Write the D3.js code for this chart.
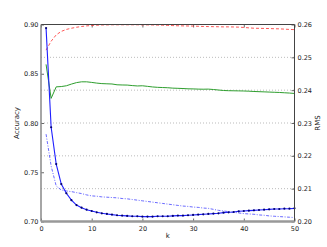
<!DOCTYPE html>
<html>
<head>
<meta charset="utf-8">
<script src="https://cdn.jsdelivr.net/npm/d3@7"></script>
<style>
  body { margin: 0; background: #fff; }
  text { font-family: "DejaVu Sans", sans-serif; fill: #222; }
</style>
</head>
<body>
<div id="chart"></div>
<script>
// k values and series
const kValues = [1,2,3,4,5,6,7,8,9,10,11,12,13,14,15,16,17,18,19,20,21,22,23,24,25,
                 26,27,28,29,30,31,32,33,34,35,36,37,38,39,40,41,42,43,44,45,46,47,48,49,50];

// accuracy (left axis)
const accRed = [0.8740,0.8830,0.8895,0.8930,0.8950,0.8962,0.8972,0.8980,0.8986,0.8990,
                0.8993,0.8995,0.8996,0.8997,0.8997,0.8997,0.8997,0.8997,0.8997,0.8996,
                0.8996,0.8995,0.8994,0.8993,0.8991,0.8989,0.8987,0.8986,0.8985,0.8984,
                0.8982,0.8980,0.8979,0.8978,0.8977,0.8976,0.8976,0.8975,0.8973,0.8970,
                0.8966,0.8962,0.8961,0.8960,0.8959,0.8957,0.8956,0.8953,0.8950,0.8948];
const accGreen = [0.8595,0.8250,0.8367,0.8370,0.8378,0.8395,0.8410,0.8418,0.8418,0.8412,
                  0.8405,0.8400,0.8398,0.8396,0.8388,0.8386,0.8385,0.8380,0.8376,0.8378,
                  0.8372,0.8366,0.8362,0.8360,0.8358,0.8354,0.8352,0.8350,0.8347,0.8346,
                  0.8344,0.8343,0.8344,0.8340,0.8335,0.8330,0.8328,0.8327,0.8326,0.8325,
                  0.8323,0.8320,0.8318,0.8316,0.8314,0.8312,0.8310,0.8307,0.8304,0.8300];

// RMS (right axis)
const rmsBlue = [0.2589,0.2287,0.2175,0.2114,0.2086,0.2065,0.2050,0.2042,0.2036,0.2032,
                 0.2028,0.2025,0.2023,0.2021,0.2019,0.2018,0.2017,0.2016,0.2016,0.2015,
                 0.2015,0.2015,0.2016,0.2016,0.2016,0.2017,0.2018,0.2018,0.2019,0.2020,
                 0.2021,0.2022,0.2023,0.2024,0.2025,0.2027,0.2028,0.2029,0.2031,0.2032,
                 0.2033,0.2034,0.2035,0.2036,0.2037,0.2038,0.2038,0.2039,0.2039,0.2040];
const rmsDashDot = [0.2266,0.2169,0.2108,0.2096,0.2093,0.2091,0.2088,0.2085,0.2081,0.2078,
                    0.2077,0.2075,0.2074,0.2073,0.2072,0.2070,0.2069,0.2067,0.2065,0.2063,
                    0.2061,0.2059,0.2057,0.2055,0.2053,0.2051,0.2049,0.2047,0.2046,0.2044,
                    0.2043,0.2041,0.2040,0.2037,0.2034,0.2032,0.2030,0.2028,0.2026,0.2024,
                    0.2023,0.2022,0.2020,0.2019,0.2017,0.2016,0.2015,0.2014,0.2013,0.2012];

const xTicks = [0,10,20,30,40,50];
const accTicks = [0.70,0.75,0.80,0.85,0.90];
const rmsTicks = [0.20,0.21,0.22,0.23,0.24,0.25,0.26];

// Set dimensions and margins
const W = 327, H = 247;
const margin = {top: 24.5, right: 32.5, bottom: 25.5, left: 41},
      width = W - margin.left - margin.right,
      height = H - margin.top - margin.bottom;

const svg = d3.select("#chart")
    .append("svg")
    .attr("width", W)
    .attr("height", H)
    .append("g")
    .attr("transform", `translate(${margin.left},${margin.top})`);

const x = d3.scaleLinear().domain([0, 50]).range([0, width]);
const yAcc = d3.scaleLinear().domain([0.70, 0.90]).range([height, 0]);
const yRms = d3.scaleLinear().domain([0.20, 0.26]).range([height, 0]);

// dotted grid on the RMS ticks
svg.append("g")
    .selectAll("line")
    .data(rmsTicks.slice(1, -1))
    .enter()
    .append("line")
    .attr("x1", 0).attr("x2", width)
    .attr("y1", d => yRms(d)).attr("y2", d => yRms(d))
    .attr("stroke", "#aaa")
    .attr("stroke-width", 0.8)
    .attr("stroke-dasharray", "1,2");

// Axes (ticks inside, like matplotlib classic)
const fmt = d3.format(".2f");
const styleAxis = g => {
    g.select(".domain").remove();
    g.selectAll(".tick line").attr("stroke", "#444").attr("stroke-width", 0.8);
    g.selectAll(".tick text").style("font-size", "6.5px").attr("fill", "#222");
};

svg.append("g")
    .attr("transform", `translate(0,${height})`)
    .call(d3.axisBottom(x).tickValues(xTicks).tickSize(-3).tickPadding(5))
    .call(styleAxis);
svg.append("g")
    .call(d3.axisTop(x).tickValues(xTicks).tickSize(-3).tickFormat(""))
    .call(styleAxis);
svg.append("g")
    .call(d3.axisLeft(yAcc).tickValues(accTicks).tickSize(-3).tickPadding(2.5).tickFormat(fmt))
    .call(styleAxis);
svg.append("g")
    .attr("transform", `translate(${width},0)`)
    .call(d3.axisRight(yRms).tickValues(rmsTicks).tickSize(-3).tickPadding(3).tickFormat(fmt))
    .call(styleAxis);

// Lines
const lineAcc = d3.line().x((d, i) => x(kValues[i])).y(d => yAcc(d));
const lineRms = d3.line().x((d, i) => x(kValues[i])).y(d => yRms(d));

svg.append("path")
    .datum(accRed)
    .attr("d", lineAcc)
    .attr("fill", "none")
    .attr("stroke", "#ff3a3a")
    .attr("stroke-opacity", 0.85)
    .attr("stroke-width", 1)
    .attr("stroke-dasharray", "3,2");

svg.append("path")
    .datum(accGreen)
    .attr("d", lineAcc)
    .attr("fill", "none")
    .attr("stroke", "#2e9e2e")
    .attr("stroke-width", 1);

svg.append("path")
    .datum(rmsDashDot)
    .attr("d", lineRms)
    .attr("fill", "none")
    .attr("stroke", "#5050ff")
    .attr("stroke-opacity", 0.85)
    .attr("stroke-width", 1)
    .attr("stroke-dasharray", "3,1.5,1,1.5");

svg.append("path")
    .datum(rmsBlue)
    .attr("d", lineRms)
    .attr("fill", "none")
    .attr("stroke", "#1f1fff")
    .attr("stroke-width", 1.1);

svg.selectAll("circle.pt")
    .data(rmsBlue)
    .enter()
    .append("circle")
    .attr("class", "pt")
    .attr("cx", (d, i) => x(kValues[i]))
    .attr("cy", d => yRms(d))
    .attr("r", 1.1)
    .attr("fill", "#000070");

// Frame
svg.append("line").attr("x1", 0).attr("x2", width).attr("y1", 0).attr("y2", 0)
    .attr("stroke", "#444").attr("stroke-width", 1);
svg.append("line").attr("x1", width).attr("x2", width).attr("y1", 0).attr("y2", height)
    .attr("stroke", "#444").attr("stroke-width", 1);
svg.append("line").attr("x1", 0).attr("x2", 0).attr("y1", 0).attr("y2", height)
    .attr("stroke", "#888").attr("stroke-width", 1.5);
svg.append("line").attr("x1", 0).attr("x2", width).attr("y1", height).attr("y2", height)
    .attr("stroke", "#999").attr("stroke-width", 2.5);

// Axis labels
svg.append("text")
    .attr("x", width / 2)
    .attr("y", height + 16)
    .style("font-size", "7px")
    .style("text-anchor", "middle")
    .text("k");
svg.append("text")
    .attr("transform", `translate(${19 - margin.left},${height / 2}) rotate(-90)`)
    .style("font-size", "7px")
    .style("text-anchor", "middle")
    .text("Accuracy");
svg.append("text")
    .attr("transform", `translate(${width + 25},${height / 2}) rotate(-90)`)
    .style("font-size", "7px")
    .style("text-anchor", "middle")
    .text("RMS");
</script>
</body>
</html>
